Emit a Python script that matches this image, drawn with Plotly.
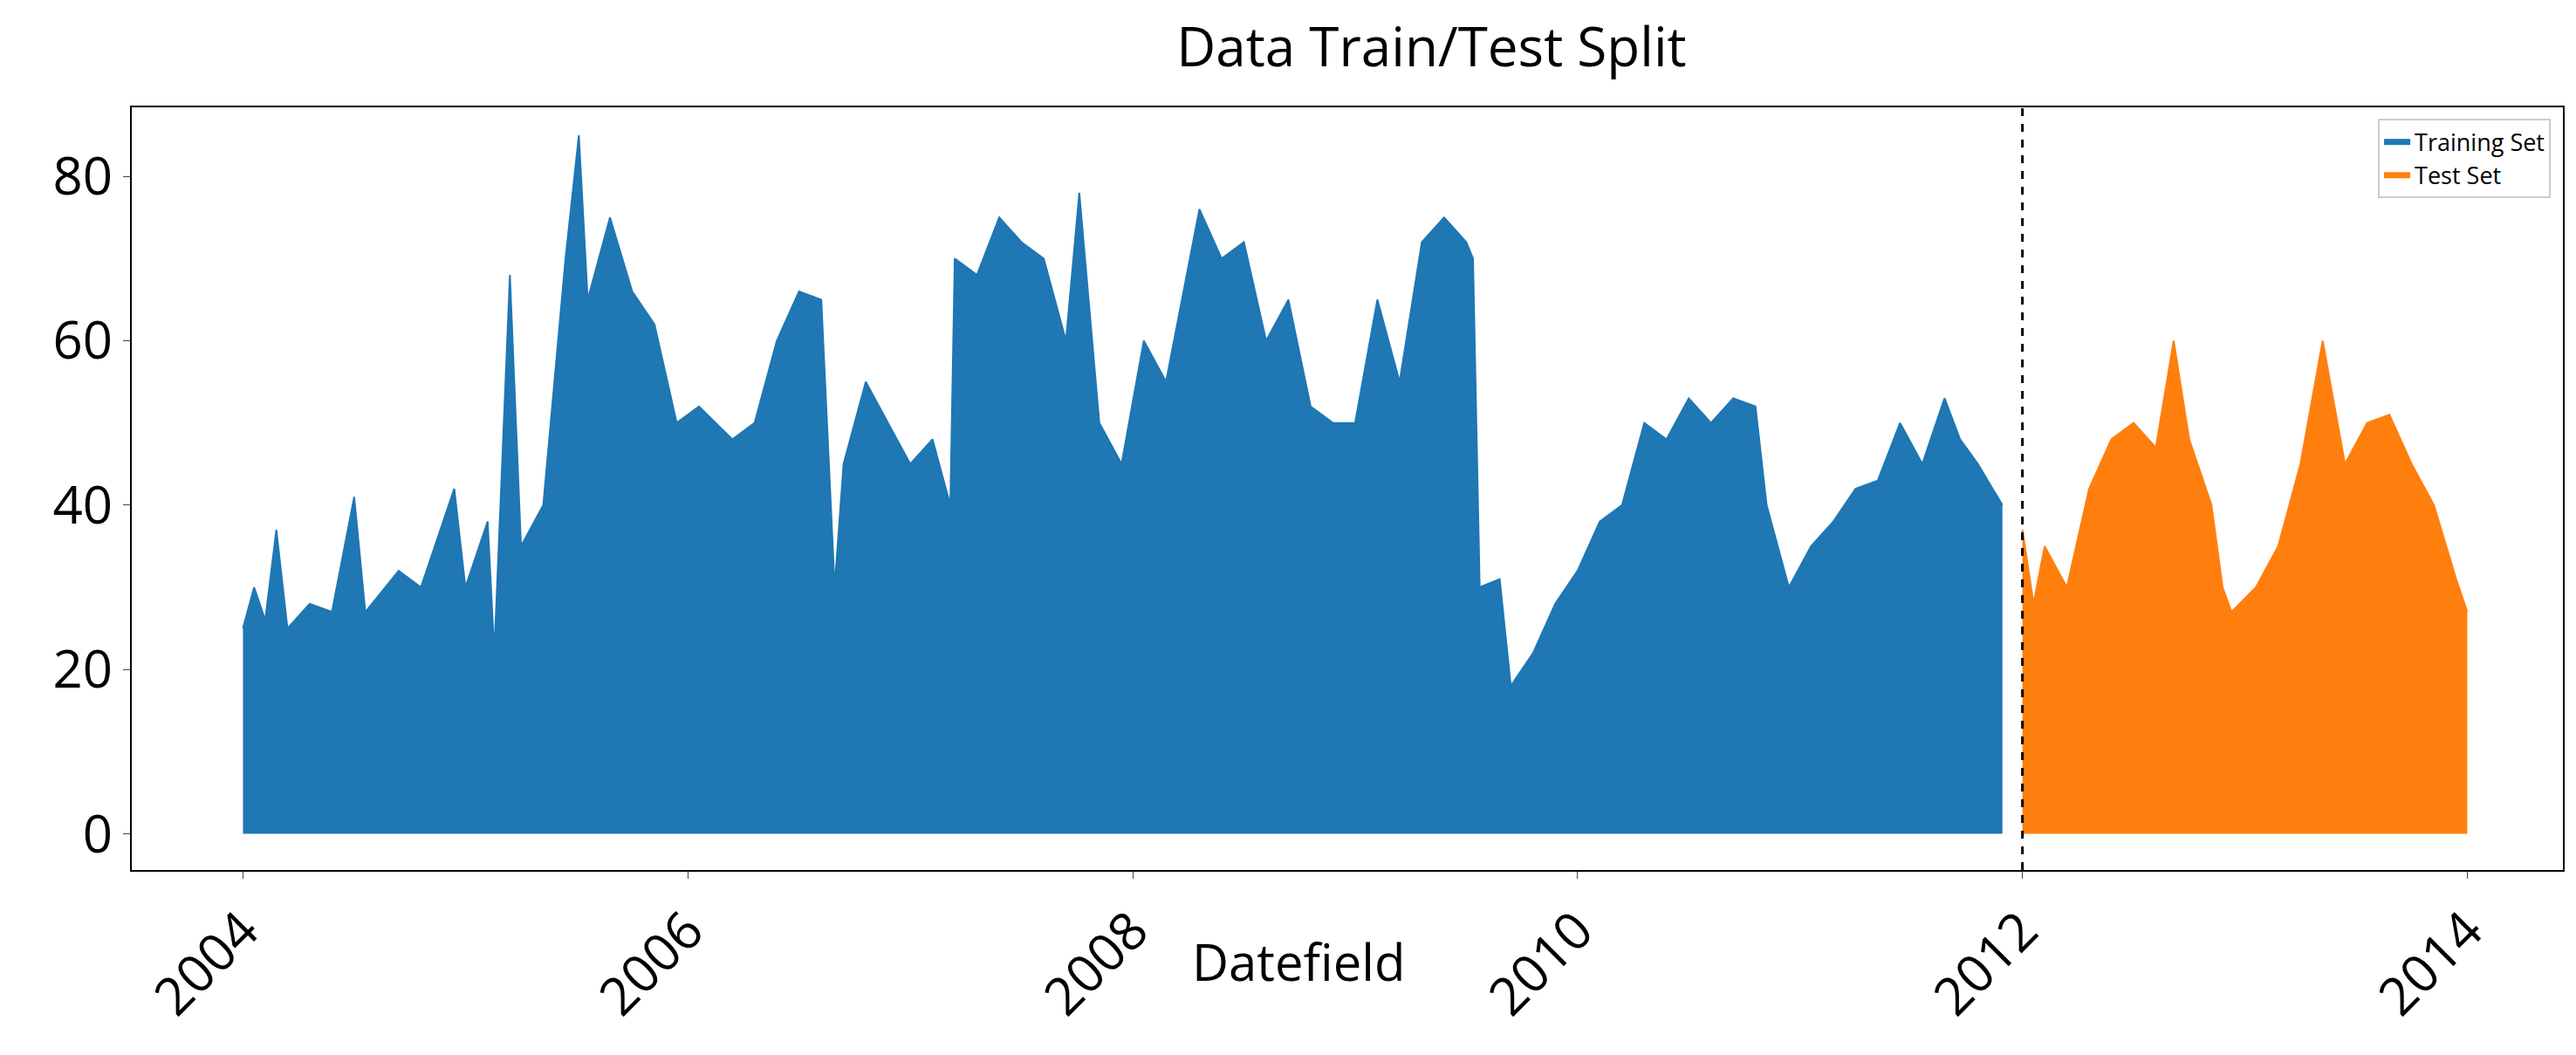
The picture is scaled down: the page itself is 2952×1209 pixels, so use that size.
import plotly.graph_objects as go

train_x = [2004.0,2004.05,2004.1,2004.15,2004.2,2004.3,2004.4,2004.5,2004.55,2004.7,2004.8,2004.95,2005.0,
           2005.1,2005.13,2005.2,2005.25,2005.35,2005.45,2005.51,2005.55,2005.65,2005.75,2005.85,2005.95,2006.05,
           2006.2,2006.3,2006.4,2006.5,2006.6,2006.66,2006.7,2006.8,2006.9,2007.0,2007.1,2007.18,2007.2,2007.3,
           2007.4,2007.5,2007.6,2007.7,2007.76,2007.85,2007.95,2008.05,2008.15,2008.3,2008.4,2008.5,2008.6,2008.7,
           2008.8,2008.9,2009.0,2009.1,2009.2,2009.3,2009.4,2009.5,2009.53,2009.56,2009.65,2009.7,2009.8,2009.9,
           2010.0,2010.1,2010.2,2010.3,2010.4,2010.5,2010.6,2010.7,2010.8,2010.85,2010.95,2011.05,2011.15,2011.25,
           2011.35,2011.45,2011.55,2011.65,2011.72,2011.8,2011.91]
train_y = [25,30,26,37,25,28,27,41,27,32,30,42,30,
           38,22,68,35,40,70,85,65,75,66,62,50,52,
           48,50,60,66,65,30,45,55,50,45,48,40,70,68,
           75,72,70,60,78,50,45,60,55,76,70,72,60,65,
           52,50,50,65,55,72,75,72,70,30,31,18,22,28,
           32,38,40,50,48,53,50,53,52,40,30,35,38,42,
           43,50,45,53,48,45,40]
test_x = [2012.0,2012.05,2012.1,2012.2,2012.3,2012.4,2012.5,2012.6,2012.68,2012.75,2012.85,2012.9,2012.94,
          2013.05,2013.15,2013.25,2013.35,2013.45,2013.55,2013.65,2013.75,2013.85,2013.95,2014.0]
test_y = [37,28,35,30,42,48,50,47,60,48,40,30,27,
          30,35,45,60,45,50,51,45,40,31,27]
years = list(range(2004, 2015, 2))

fig = go.Figure()
fig.add_trace(go.Scatter(x=train_x, y=train_y, mode="lines", fill="tozeroy", name="Training Set",
                         line=dict(color="#1f77b4", width=2), fillcolor="#1f77b4"))
fig.add_trace(go.Scatter(x=test_x, y=test_y, mode="lines", fill="tozeroy", name="Test Set",
                         line=dict(color="#ff7f0e", width=2), fillcolor="#ff7f0e"))
fig.add_vline(x=2012.0, line=dict(color="black", width=3, dash="dash"))
fig.add_annotation(text="Datefield", xref="paper", yref="paper", x=0.48, y=-0.12, yanchor="middle",
                   showarrow=False, font=dict(size=58))
fig.update_layout(
    width=2952, height=1209, plot_bgcolor="white", paper_bgcolor="white",
    margin=dict(l=143, r=23, t=115, b=220, autoexpand=False),
    font=dict(family="Open Sans", color="black"),
    title=dict(text="Data Train/Test Split", x=0.553, xanchor="center", y=0.98, yanchor="top",
               font=dict(size=62)),
    legend=dict(x=0.995, y=0.985, xanchor="right", yanchor="top", bordercolor="#cccccc", borderwidth=2,
                font=dict(size=27)),
    xaxis=dict(range=[2003.5, 2014.43], tickvals=years, ticktext=[str(y) for y in years], tickangle=-45,
               tickfont=dict(size=60), showgrid=False, zeroline=False, showline=True, linecolor="black",
               linewidth=2, mirror=True, ticks="outside", ticklen=8),
    yaxis=dict(range=[-4.4, 88.4], tickvals=[0, 20, 40, 60, 80], tickfont=dict(size=60), showgrid=False,
               zeroline=False, showline=True, linecolor="black", linewidth=2, mirror=True,
               ticks="outside", ticklen=8),
)
fig.write_html("out.html")
